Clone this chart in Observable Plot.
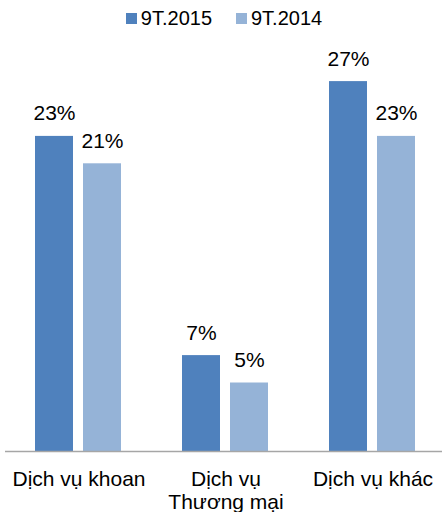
<!DOCTYPE html>
<html>
<head>
<meta charset="utf-8">
<script src="https://cdn.jsdelivr.net/npm/d3@7"></script>
<script src="https://cdn.jsdelivr.net/npm/@observablehq/plot@0.6"></script>
<style>
  html, body { margin: 0; padding: 0; background: #fff; }
  body { width: 442px; height: 512px; overflow: hidden; font-family: "Liberation Sans", Arial, sans-serif; }
  .legend { height: 36px; display: flex; align-items: center; justify-content: center; font-size: 20px; color: #000; padding-left: 6px; box-sizing: border-box; }
  .legend .item { display: flex; align-items: center; margin: 0 12px; }
  .legend .sw { width: 11px; height: 11px; margin-right: 4px; }
</style>
</head>
<body>
<div id="legend" class="legend"></div>
<div id="chart"></div>
<script>
const categories = ["Dịch vụ khoan", "Dịch vụ\nThương mại", "Dịch vụ khác"];
const series = ["9T.2015", "9T.2014"];
const values2015 = [23, 7, 27];
const values2014 = [21, 5, 23];
const colors = ["#4F81BD", "#95B3D7"];

const rows = [];
categories.forEach((c, i) => {
  rows.push({category: c, series: series[0], value: values2015[i]});
  rows.push({category: c, series: series[1], value: values2014[i]});
});

const legend = document.getElementById("legend");
series.forEach((s, i) => {
  const item = document.createElement("div");
  item.className = "item";
  const sw = document.createElement("span");
  sw.className = "sw";
  sw.style.background = colors[i];
  const t = document.createElement("span");
  t.textContent = s;
  item.appendChild(sw);
  item.appendChild(t);
  legend.appendChild(item);
});

const chart = Plot.plot({
  width: 442,
  height: 476,
  marginTop: 4,
  marginBottom: 61,
  marginLeft: 4,
  marginRight: 0,
  style: {fontFamily: "'Liberation Sans', Arial, sans-serif", fontSize: "21px", color: "#000", background: "#fff"},
  fx: {domain: categories, range: [4, 447], padding: 0, label: null, axis: null},
  x: {domain: series, paddingInner: 0.204, paddingOuter: 0.609, axis: null},
  y: {domain: [0, 30], axis: null},
  color: {domain: series, range: colors},
  marks: [
    Plot.barY(rows, {fx: "category", x: "series", y: "value", fill: "series"}),
    Plot.ruleY([0], {stroke: "#a6a6a6", strokeWidth: 1.5}),
    Plot.text(rows, {fx: "category", x: "series", y: "value", text: d => d.value + "%", lineAnchor: "bottom", dy: -16, fontSize: 21, fill: "#000"}),
    Plot.axisFx({anchor: "bottom", tickSize: 0, tickPadding: 18, fontSize: 21, lineHeight: 1.1, label: null, fill: "#000"})
  ]
});
document.getElementById("chart").appendChild(chart);
</script>
</body>
</html>
